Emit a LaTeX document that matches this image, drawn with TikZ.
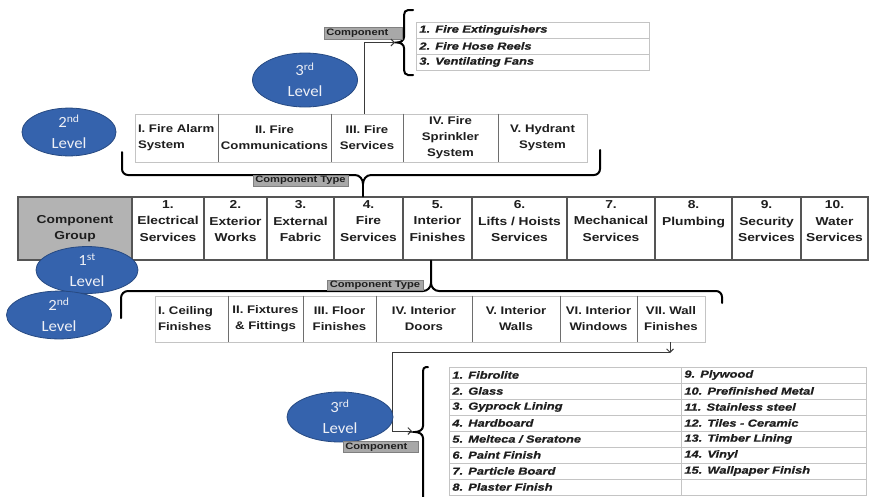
\documentclass[tikz,border=0pt]{standalone}
\usepackage{fontspec}
\setmainfont{Liberation Sans}
\newfontfamily\boxfont[FakeStretch=1.2]{Liberation Sans}
\newfontfamily\tabfont[FakeStretch=1.25,FakeBold=0.8]{Liberation Sans}
\newfontfamily\ellfont[FakeStretch=1.08]{Carlito}
\usetikzlibrary{arrows.meta,shapes.geometric}
\definecolor{ellfill}{HTML}{3563AD}
\definecolor{elldraw}{HTML}{274A82}
\definecolor{ellt}{HTML}{EEF0F6}
\definecolor{lbl}{HTML}{A8A8A8}
\definecolor{lbld}{HTML}{808080}
\definecolor{grp}{HTML}{B3B3B3}
\definecolor{gline}{HTML}{555555}
\definecolor{lt}{HTML}{C4C4C4}
\definecolor{dv}{HTML}{6E6E6E}
\definecolor{txt}{HTML}{1E1E1E}
\definecolor{conn}{HTML}{3A3A3A}
\begin{document}
\begin{tikzpicture}[x=1pt,y=-1pt,
  lvl/.style={ellipse, fill=ellfill, draw=elldraw, line width=0.8pt, inner sep=0pt, text=ellt, align=center, font=\ellfont\fontsize{15.5}{21}\selectfont},
  subcell/.style={draw=lt, line width=0.8pt, inner sep=0pt, minimum height=#1, text=txt, align=center, font=\boxfont\bfseries\fontsize{11}{16}\selectfont},
  grpcell/.style={draw=gline, line width=1.3pt, inner sep=0pt, minimum height=63},
  grptext/.style={inner sep=0pt, text=txt, align=center, anchor=north, font=\boxfont\bfseries\fontsize{11.5}{16.5}\selectfont},
  tabcell/.style={draw=lt, line width=0.8pt, minimum height=16, inner xsep=3pt, inner ysep=0pt, align=left, anchor=west, text=txt, font=\tabfont\bfseries\itshape\fontsize{10.3}{12}\selectfont},
  tag/.style={fill=lbl, draw=lbld, line width=0.6pt, inner sep=0pt, text=txt, font=\boxfont\bfseries\fontsize{9.3}{10}\selectfont},
  brace/.style={draw=black, line width=2pt, line cap=round},
  link/.style={draw=conn, line width=0.9pt, -{Straight Barb[length=3.5pt,width=7pt]}},
  divline/.style={draw=dv, line width=1pt}
]
\useasboundingbox (0,0) rectangle (869,496);
\fill[white] (0,0) rectangle (869,496);

% ---------- top third level table ----------
\node[tabcell, text width=227] (f1) at (416,30) {1. Fire Extinguishers};
\node[tabcell, text width=227] (f2) at (416,46) {2. Fire Hose Reels};
\node[tabcell, text width=227] (f3) at (416,62) {3. Ventilating Fans};
\draw[brace] (413,10) -- (408,10) to[out=180,in=90] (404,15) -- (404,37) to[out=270,in=0] (397,42.5) to[out=0,in=90] (404,48) -- (404,70) to[out=270,in=180] (408,75) -- (413,75);
\node[tag, minimum width=78, minimum height=12, anchor=west, text width=74, inner xsep=2pt, align=left] (c1) at (324,33) {Component};
\coordinate (tb1) at (395,42.5);

\node[lvl, minimum width=105, minimum height=54] (e3a) at (305,80) {3\textsuperscript{rd}\\Level};

% ---------- top second level row ----------
\node[subcell=48, minimum width=83, text width=77, inner xsep=3pt, align=left] (t1) at (176.5,138) {I. Fire Alarm\\System};
\node[subcell=48, minimum width=113] (t2) at (274.5,138) {II. Fire\\Communications};
\node[subcell=48, minimum width=72] (t3) at (367,138) {III. Fire\\Services};
\node[subcell=48, minimum width=95] (t4) at (450.5,138) {IV. Fire\\Sprinkler\\System};
\node[subcell=48, minimum width=89] (t5) at (542.5,138) {V. Hydrant\\System};
\foreach \n in {t1,t2,t3,t4}{\draw[divline] (\n.north east) -- (\n.south east);}
\draw[link] ([xshift=-3pt]t3.north) |- (tb1);

\node[lvl, minimum width=94, minimum height=44] (e2a) at (69,132) {2\textsuperscript{nd}\\Level};

% upper component type brace
\draw[brace] (122,152) -- (122,169) to[out=270,in=180] (128,175) -- (355,175) to[out=0,in=90] (363,184) to[out=90,in=180] (371,175) -- (594,175) to[out=0,in=270] (600,169) -- (600,150);
\node[tag, minimum width=95, minimum height=11] (ct1) at (300.5,180.5) {Component Type};

% ---------- component group row ----------
\node[grpcell, fill=grp, minimum width=114, align=center, text=txt, font=\boxfont\bfseries\fontsize{11.5}{16.5}\selectfont] (g0) at (75,228.5) {Component\\Group};
\node[grpcell, minimum width=72] (g1) at (168,228.5) {};
\node[grpcell, minimum width=63] (g2) at (235.5,228.5) {};
\node[grpcell, minimum width=67] (g3) at (300.5,228.5) {};
\node[grpcell, minimum width=69] (g4) at (368.5,228.5) {};
\node[grpcell, minimum width=69] (g5) at (437.5,228.5) {};
\node[grpcell, minimum width=95] (g6) at (519.5,228.5) {};
\node[grpcell, minimum width=88] (g7) at (611,228.5) {};
\node[grpcell, minimum width=77] (g8) at (693.5,228.5) {};
\node[grpcell, minimum width=69] (g9) at (766.5,228.5) {};
\node[grpcell, minimum width=67] (g10) at (834.5,228.5) {};
\node[grptext] (g1t) at ([yshift=-4pt]g1.north) {1.\\Electrical\\Services};
\node[grptext] (g2t) at ([yshift=-4pt]g2.north) {2.\\Exterior\\Works};
\node[grptext] (g3t) at ([yshift=-4pt]g3.north) {3.\\External\\Fabric};
\node[grptext] (g4t) at ([yshift=-4pt]g4.north) {4.\\Fire\\Services};
\node[grptext] (g5t) at ([yshift=-4pt]g5.north) {5.\\Interior\\Finishes};
\node[grptext] (g6t) at ([yshift=-4pt]g6.north) {6.\\Lifts / Hoists\\Services};
\node[grptext] (g7t) at ([yshift=-4pt]g7.north) {7.\\Mechanical\\Services};
\node[grptext] (g8t) at ([yshift=-4pt]g8.north) {8.\\Plumbing};
\node[grptext] (g9t) at ([yshift=-4pt]g9.north) {9.\\Security\\Services};
\node[grptext] (g10t) at ([yshift=-4pt]g10.north) {10.\\Water\\Services};
\draw[brace] (363,184) -- (363,0 |- g4.north);

\node[lvl, minimum width=102, minimum height=45] (e1) at (87,270) {1\textsuperscript{st}\\Level};

% lower component type brace
\draw[brace] (431,0 |- g5.south) -- (431,283) to[out=270,in=0] (423,291) -- (128,291) to[out=180,in=90] (121,298) -- (121,318);
\draw[brace] (431,283) to[out=270,in=180] (439,291) -- (716,291) to[out=0,in=90] (722,297) -- (722,303);
\node[tag, minimum width=96, minimum height=10] (ct2) at (375,285.5) {Component Type};

\node[lvl, minimum width=105, minimum height=45] (e2b) at (59,315) {2\textsuperscript{nd}\\Level};

% ---------- lower second level row ----------
\node[subcell=46, minimum width=73, text width=67, inner xsep=3pt, align=left] (l1) at (191.5,319) {I. Ceiling\\Finishes};
\node[subcell=46, minimum width=75] (l2) at (265.5,319) {II. Fixtures\\\& Fittings};
\node[subcell=46, minimum width=73] (l3) at (339.5,319) {III. Floor\\Finishes};
\node[subcell=46, minimum width=96] (l4) at (424,319) {IV. Interior\\Doors};
\node[subcell=46, minimum width=88] (l5) at (516,319) {V. Interior\\Walls};
\node[subcell=46, minimum width=77] (l6) at (598.5,319) {VI. Interior\\Windows};
\node[subcell=46, minimum width=68] (l7) at (671,319) {VII. Wall\\Finishes};
\foreach \n in {l1,l2,l3,l4,l5,l6}{\draw[divline] (\n.north east) -- (\n.south east);}

% ---------- bottom third level ----------
\coordinate (j1) at (670,353);
\coordinate (k1) at (392,352);
\coordinate (tb2) at (412,431);
\draw[link] ([xshift=-1pt]l7.south) -- (j1);
\draw[link] (670,352) -- (k1) |- (tb2);

\node[lvl, minimum width=106, minimum height=50] (e3b) at (340,417) {3\textsuperscript{rd}\\Level};

\draw[brace] (428,367) -- (426,367) to[out=180,in=90] (423,371) -- (423,426) to[out=270,in=0] (415,432) to[out=0,in=90] (423,438) -- (423,497);
\node[tag, minimum width=75, minimum height=11, anchor=west, text width=71, inner xsep=2pt, align=left] (c2) at (343,447) {Component};

\node[tabcell, text width=226] (m1) at (449,375) {1. Fibrolite};
\node[tabcell, text width=226] (m2) at (449,391) {2. Glass};
\node[tabcell, text width=226] (m3) at (449,407) {3. Gyprock Lining};
\node[tabcell, text width=226] (m4) at (449,423) {4. Hardboard};
\node[tabcell, text width=226] (m5) at (449,439) {5. Melteca / Seratone};
\node[tabcell, text width=226] (m6) at (449,455) {6. Paint Finish};
\node[tabcell, text width=226] (m7) at (449,471) {7. Particle Board};
\node[tabcell, text width=226] (m8) at (449,487) {8. Plaster Finish};
\node[tabcell, text width=179] (m9) at (681,375) {9. Plywood};
\node[tabcell, text width=179] (m10) at (681,391) {10. Prefinished Metal};
\node[tabcell, text width=179] (m11) at (681,407) {11. Stainless steel};
\node[tabcell, text width=179] (m12) at (681,423) {12. Tiles - Ceramic};
\node[tabcell, text width=179] (m13) at (681,439) {13. Timber Lining};
\node[tabcell, text width=179] (m14) at (681,455) {14. Vinyl};
\node[tabcell, text width=179] (m15) at (681,471) {15. Wallpaper Finish};
\node[tabcell, text width=179] (m16) at (681,487) {};
\end{tikzpicture}
\end{document}
